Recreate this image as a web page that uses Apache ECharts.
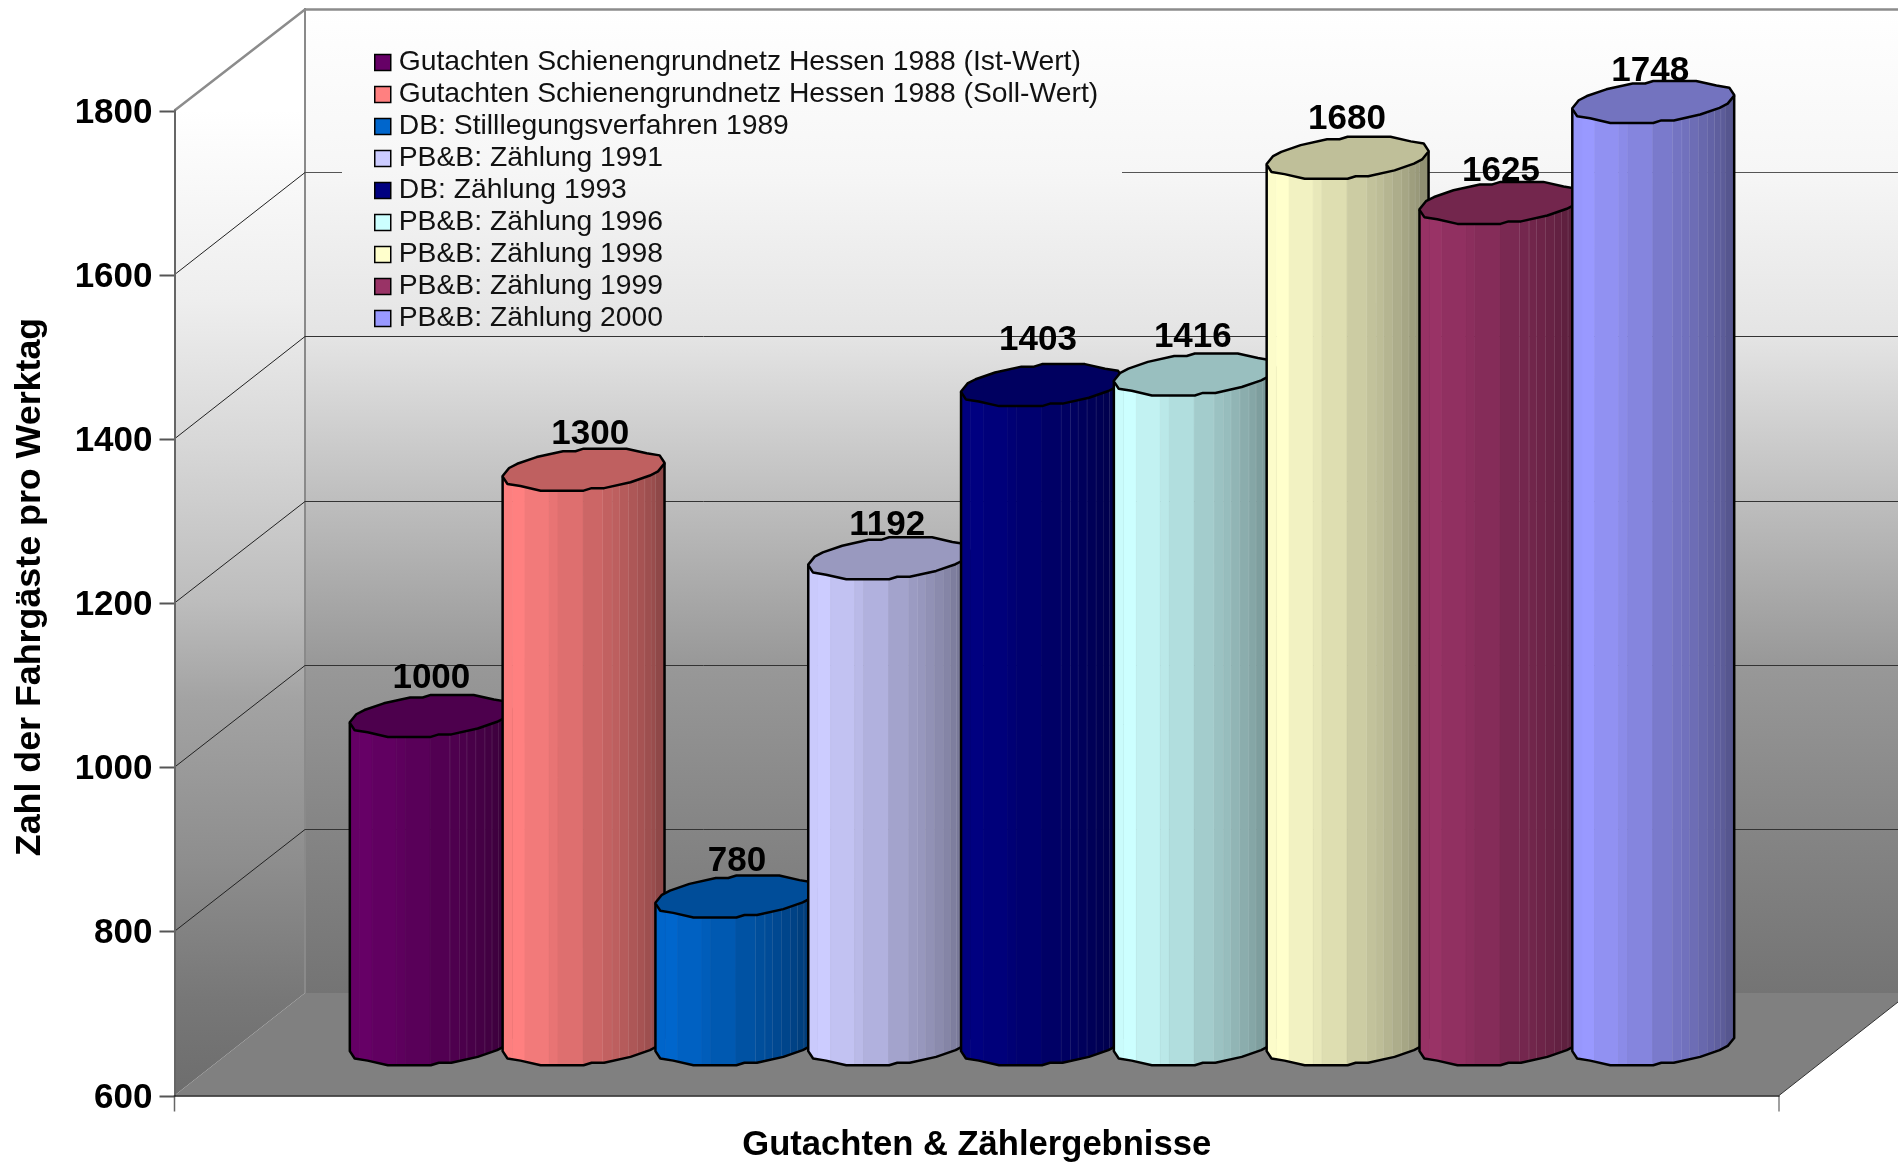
<!DOCTYPE html>
<html>
<head>
    <meta charset="utf-8">
    <title>Zahl der Fahrgäste pro Werktag</title>
    <script src="https://cdn.jsdelivr.net/npm/echarts@6/dist/echarts.min.js"></script>
    <style>html,body{margin:0;padding:0;background:#fff}</style>
</head>

<body>
<div id="main" style="width:1898px;height:1162px"></div>
<script type="text/javascript">
    var seriesNames = [
        'Gutachten Schienengrundnetz Hessen 1988 (Ist-Wert)',
        'Gutachten Schienengrundnetz Hessen 1988 (Soll-Wert)',
        'DB: Stilllegungsverfahren 1989',
        'PB&B: Zählung 1991',
        'DB: Zählung 1993',
        'PB&B: Zählung 1996',
        'PB&B: Zählung 1998',
        'PB&B: Zählung 1999',
        'PB&B: Zählung 2000'
    ];
    var values = [1000, 1300, 780, 1192, 1403, 1416, 1680, 1625, 1748];
    var barColors = ['#660066', '#ff8080', '#0066cc', '#ccccff', '#000080', '#ccffff', '#ffffcc', '#993366', '#9999ff'];
    var yTicks = [600, 800, 1000, 1200, 1400, 1600, 1800];
    var xTitle = 'Gutachten & Zählergebnisse';
    var yTitle = 'Zahl der Fahrgäste pro Werktag';

    var FONT = '"Liberation Sans", Arial, sans-serif';
    // depth of the fake 3d box
    var wallDx = 130.5, wallDy = 102.5;
    var GAP_BARS = 1.5;

    // the value labels do not sit quite the same on each bar in the original
    var labelShiftX = [3.6, 9.7, 3.6, 1, -1, 1, 2.4, 3.6, 0];
    var labelShiftY = [-5, -2.4, -2.4, 0, -12, -5, -6, 1, 2];

    // lower half of the cylinder outline: [position across, position down], -1..1
    var outlineLow = [[0, 0.33], [0.03, 0.68], [0.11, 0.78], [0.235, 1], [0.5, 1], [0.55, 0.88], [0.627, 0.88], [0.79, 0.6], [0.91, 0.28], [0.96, 0.08], [1, -0.3]];
    // side facets of the cylinder and how much each one is darkened
    var facetEnds = [0.06, 0.138, 0.287, 0.342, 0.497, 0.62, 0.678, 0.725, 0.78, 0.836, 0.88, 0.919, 0.946, 1];
    var facetShade = [0.99, 1, 0.95, 0.91, 0.87, 0.8, 0.76, 0.74, 0.71, 0.68, 0.65, 0.62, 0.6, 0.56];

    function shade(hex, k) {
        var n = parseInt(hex.slice(1), 16);
        return 'rgb(' + Math.round((n >> 16) * k) + ',' + Math.round(((n >> 8) & 255) * k) + ',' + Math.round((n & 255) * k) + ')';
    }

    function lowAt(f) {
        for (var i = 1; i < outlineLow.length; i++) {
            var a = outlineLow[i - 1], b = outlineLow[i];
            if (f <= b[0]) return a[1] + (b[1] - a[1]) * (f - a[0]) / (b[0] - a[0]);
        }
        return outlineLow[outlineLow.length - 1][1];
    }

    function greyStops(list, y0, y1) {
        return {
            type: 'linear', x: 0, y: 0, x2: 0, y2: 1,
            colorStops: list.map(function (s) {
                return {offset: (s[0] - y0) / (y1 - y0), color: s[1]};
            })
        };
    }

    function renderWalls(params, api) {
        var cs = params.coordSys;
        var left = cs.x, right = cs.x + cs.width;
        var bottom = api.coord([0, 600])[1];
        var top = api.coord([0, 1800])[1];
        var v = api.value(1);
        var y = api.coord([0, v])[1];
        var children = [];
        if (v === 600) {
            var by = bottom - wallDy, ty = top - wallDy, bx = left + wallDx;
            children.push({
                type: 'polygon', shape: {points: [[bx, ty], [right + wallDx, ty], [right + wallDx, by], [bx, by]]},
                style: {fill: greyStops([[ty, '#ffffff'], [172, '#f6f6f6'], [337, '#e4e4e4'], [500, '#bebebe'], [665, '#989898'], [828, '#858585'], [by, '#747474']], ty, by)}
            });
            children.push({
                type: 'polygon', shape: {points: [[left, top], [bx, ty], [bx, by], [left, bottom]]},
                style: {fill: greyStops([[ty, '#ffffff'], [110, '#ffffff'], [300, '#eeeeee'], [440, '#d8d8d8'], [600, '#bdbdbd'], [700, '#a3a3a3'], [860, '#8e8e8e'], [1000, '#777777'], [bottom, '#6d6d6d']], ty, bottom)}
            });
            children.push({
                type: 'polygon', shape: {points: [[left, bottom], [right, bottom], [right + wallDx, by], [bx, by]]},
                style: {fill: '#808080'}
            });
            children.push({
                type: 'line', shape: {x1: right, y1: bottom, x2: right + wallDx, y2: by},
                style: {stroke: '#333', lineWidth: 1}
            });
            children.push({
                type: 'line', shape: {x1: bx, y1: ty, x2: bx, y2: by},
                style: {stroke: '#8a8a8a', lineWidth: 2}
            });
            // ticks under the floor
            children.push({type: 'line', shape: {x1: left, y1: bottom, x2: left, y2: bottom + 16}, style: {stroke: '#666', lineWidth: 1.5}});
            children.push({type: 'line', shape: {x1: right, y1: bottom, x2: right, y2: bottom + 16}, style: {stroke: '#808080', lineWidth: 1.5}});
        } else if (v === 1800) {
            children.push({
                type: 'polyline', shape: {points: [[left, y], [left + wallDx, y - wallDy + 1.5], [right + wallDx, y - wallDy + 1.5]]},
                style: {fill: null, stroke: '#8c8c8c', lineWidth: 2.5}
            });
        } else {
            var backY = Math.round(y - wallDy) + 0.5;
            children.push({
                type: 'line', shape: {x1: left, y1: y, x2: left + wallDx, y2: backY},
                style: {stroke: '#222', lineWidth: 1}
            });
            if (v === 1600) {
                // the line stops behind the legend box
                children.push({type: 'line', shape: {x1: left + wallDx, y1: backY, x2: 342, y2: backY}, style: {stroke: '#555', lineWidth: 1}});
                children.push({type: 'line', shape: {x1: 1122, y1: backY, x2: right + wallDx, y2: backY}, style: {stroke: '#555', lineWidth: 1}});
            } else {
                children.push({type: 'line', shape: {x1: left + wallDx, y1: backY, x2: right + wallDx, y2: backY}, style: {stroke: '#333', lineWidth: 1}});
            }
        }
        // y ticks
        children.push({type: 'line', shape: {x1: left - 15, y1: Math.round(y) + 0.5, x2: left, y2: Math.round(y) + 0.5}, style: {stroke: '#555', lineWidth: 2}});
        return {type: 'group', silent: true, children: children};
    }

    function barRenderer(idx) {
        return function (params, api) {
            var cs = params.coordSys;
            var step = cs.width / (seriesNames.length + GAP_BARS);
            var cx = api.coord([0, 0])[0] + (idx - (seriesNames.length - 1) / 2) * step + wallDx / 2;
            var topY = api.coord([0, api.value(1)])[1] - wallDy / 2;
            var baseY = api.coord([0, 600])[1] - wallDy / 2;
            var depth = step * 0.35;
            var rx = Math.sqrt(step * step + depth * depth) / 2;
            var ry = 21;
            var col = barColors[idx];
            var xAt = function (f) { return cx - rx + 2 * rx * f; };
            var children = [];

            // side facets, split further at the outline corners
            var start = 0;
            facetEnds.forEach(function (end, k) {
                var fs = [start];
                outlineLow.forEach(function (p) { if (p[0] > start && p[0] < end) fs.push(p[0]); });
                fs.push(end);
                var upper = fs.map(function (f) { return [xAt(f), topY + ry * lowAt(f)]; });
                var lower = fs.map(function (f) { return [xAt(f), baseY + ry * lowAt(f)]; }).reverse();
                var c = shade(col, facetShade[k]);
                children.push({
                    type: 'polygon', shape: {points: upper.concat(lower)},
                    style: {fill: c, stroke: c, lineWidth: 0.6}
                });
                if (k >= 5 && k < facetEnds.length - 1) {
                    children.push({
                        type: 'line',
                        shape: {x1: xAt(end), y1: topY + ry * lowAt(end), x2: xAt(end), y2: baseY + ry * lowAt(end)},
                        style: {stroke: 'rgba(255,255,255,0.28)', lineWidth: 1}
                    });
                }
                start = end;
            });

            var low = outlineLow.map(function (p) { return [xAt(p[0]), baseY + ry * p[1]]; });
            children.push({
                type: 'polyline',
                shape: {points: [[xAt(0), topY + ry * outlineLow[0][1]]].concat(low, [[xAt(1), topY + ry * outlineLow[outlineLow.length - 1][1]]])},
                style: {fill: null, stroke: '#000', lineWidth: 2.5, lineJoin: 'round'}
            });

            // top face: the upper half is the lower half turned around the centre
            var front = outlineLow.map(function (p) { return [xAt(p[0]), topY + ry * p[1]]; });
            var back = outlineLow.map(function (p) { return [xAt(1 - p[0]), topY - ry * p[1]]; });
            children.push({
                type: 'polygon', shape: {points: front.concat(back)},
                style: {fill: shade(col, 0.75), stroke: '#000', lineWidth: 2.5, lineJoin: 'round'}
            });

            children.push({
                type: 'text',
                style: {
                    text: String(api.value(1)), x: cx - 3 + labelShiftX[idx], y: topY - ry + 6 + labelShiftY[idx],
                    align: 'center', verticalAlign: 'bottom',
                    font: 'bold 35px ' + FONT, fill: '#000'
                }
            });
            return {type: 'group', silent: true, children: children};
        };
    }

    var series = [{
        name: 'walls',
        type: 'custom',
        z: 1,
        silent: true,
        renderItem: renderWalls,
        data: yTicks.map(function (t) { return [0, t]; })
    }];
    seriesNames.forEach(function (name, i) {
        series.push({
            name: name,
            type: 'custom',
            z: 2,
            silent: true,
            itemStyle: {color: barColors[i]},
            renderItem: barRenderer(i),
            data: [[0, values[i]]]
        });
    });

    var myChart = echarts.init(document.getElementById('main'));
    myChart.setOption({
        animation: false,
        backgroundColor: '#fff',
        grid: {left: 174.5, right: 119, top: 110.5, bottom: 66.5, outerBoundsMode: 'none'},
        legend: {
            data: seriesNames,
            orient: 'vertical',
            left: 374,
            top: 48.5,
            padding: 0,
            icon: 'rect',
            itemWidth: 16,
            itemHeight: 16,
            itemGap: 4,
            selectedMode: false,
            z: 6,
            itemStyle: {borderColor: '#000', borderWidth: 1.5},
            textStyle: {fontFamily: FONT, fontSize: 28.3, color: '#111', lineHeight: 16, padding: [0, 0, 0, 3]}
        },
        xAxis: {
            type: 'category',
            data: [xTitle],
            z: 5,
            name: xTitle,
            nameLocation: 'middle',
            nameGap: 32,
            nameTextStyle: {fontFamily: FONT, fontSize: 34.6, fontWeight: 'bold', color: '#000'},
            axisLabel: {show: false},
            axisLine: {lineStyle: {color: '#222', width: 1.5}},
            axisTick: {show: false},
            splitLine: {show: false}
        },
        yAxis: {
            type: 'value',
            min: 600,
            max: 1800,
            interval: 200,
            z: 5,
            name: yTitle,
            nameLocation: 'middle',
            nameRotate: 90,
            nameGap: 126,
            nameTextStyle: {fontFamily: FONT, fontSize: 35.8, fontWeight: 'bold', color: '#000', padding: [0, 0, 0, 32]},
            axisLabel: {fontFamily: FONT, fontSize: 35, fontWeight: 'bold', color: '#000', margin: 22, verticalAlign: 'top', lineHeight: 5, formatter: function (v) { return String(v); }},
            axisLine: {show: true, lineStyle: {color: '#666', width: 2}},
            axisTick: {show: false},
            splitLine: {show: false}
        },
        series: series
    });
</script>
</body>

</html>
